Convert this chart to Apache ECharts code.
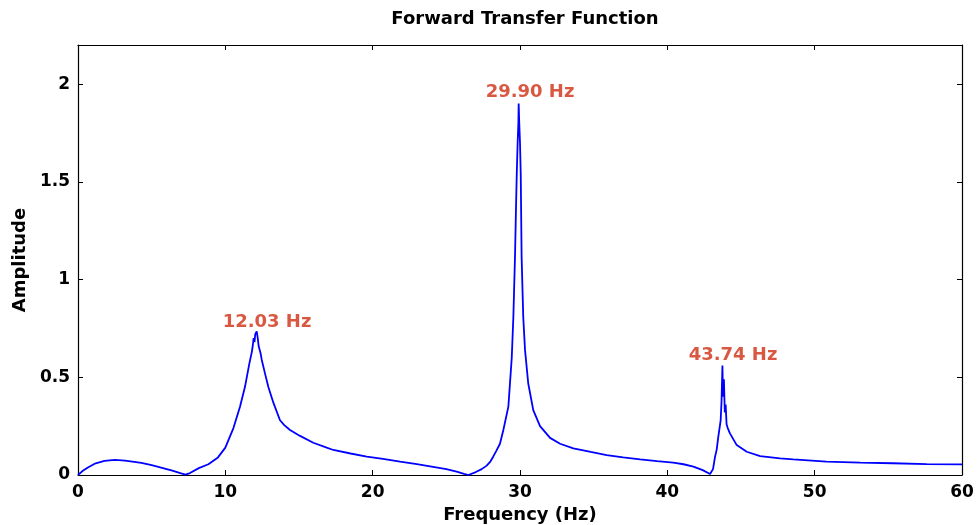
<!DOCTYPE html>
<html>
<head>
<meta charset="utf-8">
<script src="https://cdn.jsdelivr.net/npm/echarts@6/dist/echarts.min.js"></script>
<style>
html,body{margin:0;padding:0;background:#fff;}
#chart{width:979px;height:525px;}
</style>
</head>
<body>
<div id="chart"></div>
<script>
// Frequency (Hz) sample points
var freq = [0,0.3,0.7,1.2,1.8,2.5,3.2,4.3,5.0,5.7,6.4,7.0,7.3,7.6,8.2,8.85,9.5,10.0,10.55,11.0,11.33,11.63,11.8,11.86,11.92,11.98,12.03,12.13,12.2,12.26,12.31,12.4,12.47,12.55,12.69,12.92,13.26,13.71,14.0,14.39,15.07,15.97,16.88,17.33,18.5,19.6,20.7,21.86,23.0,24.1,25.0,25.7,26.2,26.5,27.0,27.4,27.74,28.0,28.19,28.4,28.64,28.87,29.21,29.44,29.55,29.66,29.73,29.78,29.84,29.89,29.91,29.95,30.0,30.05,30.11,30.22,30.34,30.56,30.9,31.36,32.04,32.72,33.62,34.8,35.88,37.0,38.15,39.3,40.4,41.1,41.77,42.4,42.9,43.1,43.24,43.35,43.46,43.62,43.68,43.74,43.78,43.84,43.9,43.96,44.02,44.1,44.25,44.71,45.39,46.3,47.65,48.55,50.8,53.1,55.3,57.6,60];
// Amplitude values
var amplitude = [0,0.02,0.04,0.06,0.072,0.077,0.074,0.062,0.05,0.037,0.022,0.008,0.002,0.01,0.035,0.055,0.09,0.14,0.24,0.35,0.45,0.57,0.63,0.66,0.70,0.68,0.72,0.735,0.70,0.66,0.67,0.62,0.59,0.58,0.52,0.45,0.37,0.28,0.255,0.23,0.20,0.165,0.14,0.128,0.11,0.094,0.083,0.068,0.056,0.042,0.03,0.017,0.006,0.0,0.015,0.03,0.048,0.07,0.095,0.125,0.16,0.23,0.35,0.60,0.81,1.115,1.37,1.54,1.70,1.80,1.90,1.80,1.70,1.54,1.115,0.81,0.64,0.468,0.332,0.25,0.19,0.16,0.136,0.118,0.102,0.09,0.08,0.071,0.063,0.055,0.043,0.025,0.005,0.03,0.094,0.13,0.196,0.28,0.38,0.56,0.40,0.49,0.32,0.36,0.26,0.24,0.213,0.153,0.119,0.097,0.085,0.08,0.068,0.063,0.06,0.056,0.054];
// Peak annotations
var peakLabels = ['12.03 Hz','29.90 Hz','43.74 Hz'];
var peakLabelX = [12.83, 30.68, 44.46];
var peakLabelY = [0.78, 1.957, 0.613];
var xTicks = [0,10,20,30,40,50,60];

var lineData = freq.map(function(f,i){return [f, amplitude[i]];});
var annData = peakLabels.map(function(t,i){return {value:[peakLabelX[i], peakLabelY[i]], name:t};});

var FONT = '"DejaVu Sans", "Liberation Sans", Arial, sans-serif';
var chart = echarts.init(document.getElementById('chart'), null, {renderer:'canvas'});
var axisCommon = {
  type:'value',
  axisLine:{show:true, onZero:false, lineStyle:{color:'#000', width:1.2}},
  axisTick:{show:true, inside:true, length:5, lineStyle:{color:'#000', width:1}},
  splitLine:{show:false}
};
chart.setOption({
  animation:false,
  backgroundColor:'#fff',
  title:{
    text:'Forward Transfer Function', left:520, textAlign:'center', top:5,
    textStyle:{fontFamily:FONT, fontWeight:'bold', fontSize:18, color:'#000'}
  },
  grid:{left:78, right:17, top:45, bottom:50, containLabel:false, outerBoundsMode:'none'},
  xAxis:[
    Object.assign({}, axisCommon, {
      position:'bottom', min:xTicks[0], max:xTicks[xTicks.length-1], interval:10,
      name:'Frequency (Hz)', nameLocation:'middle', nameGap:22,
      nameTextStyle:{fontFamily:FONT, fontWeight:'bold', fontSize:18, color:'#000'},
      axisLabel:{fontFamily:FONT, fontWeight:'bold', fontSize:17, color:'#000', margin:9}
    }),
    Object.assign({}, axisCommon, {
      position:'top', min:0, max:60, interval:10,
      axisLabel:{show:false}
    })
  ],
  yAxis:[
    Object.assign({}, axisCommon, {
      position:'left', min:0, max:2.2, interval:0.5,
      name:'Amplitude', nameLocation:'middle', nameGap:41, nameRotate:90,
      nameTextStyle:{fontFamily:FONT, fontWeight:'bold', fontSize:18, color:'#000'},
      axisLabel:{fontFamily:FONT, fontWeight:'bold', fontSize:17, color:'#000', margin:8, showMaxLabel:false}
    }),
    Object.assign({}, axisCommon, {
      position:'right', min:0, max:2.2, interval:0.5,
      axisLabel:{show:false}
    })
  ],
  series:[
    {
      type:'line', data:lineData, showSymbol:false, symbol:'none',
      lineStyle:{color:'#0000ff', width:1.8}, itemStyle:{color:'#0000ff'},
      xAxisIndex:0, yAxisIndex:0, silent:true
    },
    {
      type:'scatter', data:annData, symbolSize:0, xAxisIndex:0, yAxisIndex:0, silent:true,
      label:{show:true, position:'inside', formatter:function(p){return p.name;},
        fontFamily:FONT, fontWeight:'bold', fontSize:18, color:'#cf2e12'}
    }
  ]
});
</script>
</body>
</html>
